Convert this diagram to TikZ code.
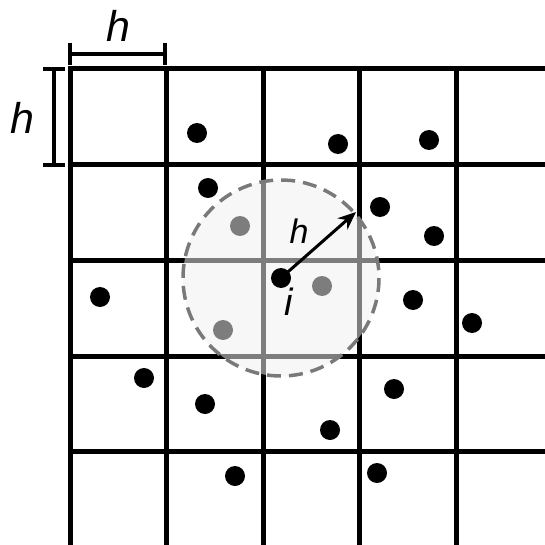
\documentclass[tikz,border=0pt]{standalone}
\usepackage{fontspec}
\setmainfont{Liberation Sans}
\usetikzlibrary{arrows.meta}
\begin{document}
\begin{tikzpicture}[x=1pt,y=-1pt,
  gridline/.style={line width=5pt,line cap=rect},
  dimline/.style={line width=4pt},
  dot/.style={circle,fill=black,inner sep=0pt,minimum size=20pt},
  lbl/.style={inner sep=0pt,font=\fontsize{43}{43}\selectfont\itshape}]
\useasboundingbox (0,0) rectangle (544,545);
% grid
\foreach \x in {70,166.5,263,359.5,456} \draw[gridline] (\x,69) -- (\x,548);
\foreach \y in {69,165,260.5,356,451} \draw[gridline] (70,\y) -- (548,\y);
% dimension lines
\coordinate (t1) at (70,54); \coordinate (t2) at (165,54);
\draw[dimline] (t1) -- (t2);
\draw[dimline] (70,43) -- (70,65);
\draw[dimline] (165,43) -- (165,65);
\node[lbl] (htop) at (118,26) {h};
\coordinate (l1) at (54,69); \coordinate (l2) at (54,165);
\draw[dimline] (l1) -- (l2);
\draw[dimline] (43,69) -- (65,69);
\draw[dimline] (43,165) -- (65,165);
\node[lbl] (hleft) at (22,118) {h};
% particles
\foreach \p [count=\k] in {(197,133),(338,144),(429,140),(208,188),(380,207),(434,236),(100,297),(413,300),(472,323),(144,378),(394,389),(205,404),(330,430),(235,476),(377,473),(240,226),(322,286),(223,330)}
  \node[dot] (p\k) at \p {};
% kernel disc
\fill[gray!12,opacity=0.52] (281,278) circle (98);
\draw[gray!105,line width=3.5pt,dash pattern=on 14pt off 8pt] (281,278) circle (98);
\node[dot] (i) at (281,278) {};
\coordinate (tip) at (356,212);
\draw[line width=3pt,-{Stealth[length=18pt,width=15pt]}] (i.center) -- (tip);
\node[lbl,font=\fontsize{34}{34}\selectfont\itshape] (hr) at (299,231) {h};
\node[lbl,font=\fontsize{38}{38}\selectfont\itshape] (il) at (289,302) {i};
\end{tikzpicture}
\end{document}
